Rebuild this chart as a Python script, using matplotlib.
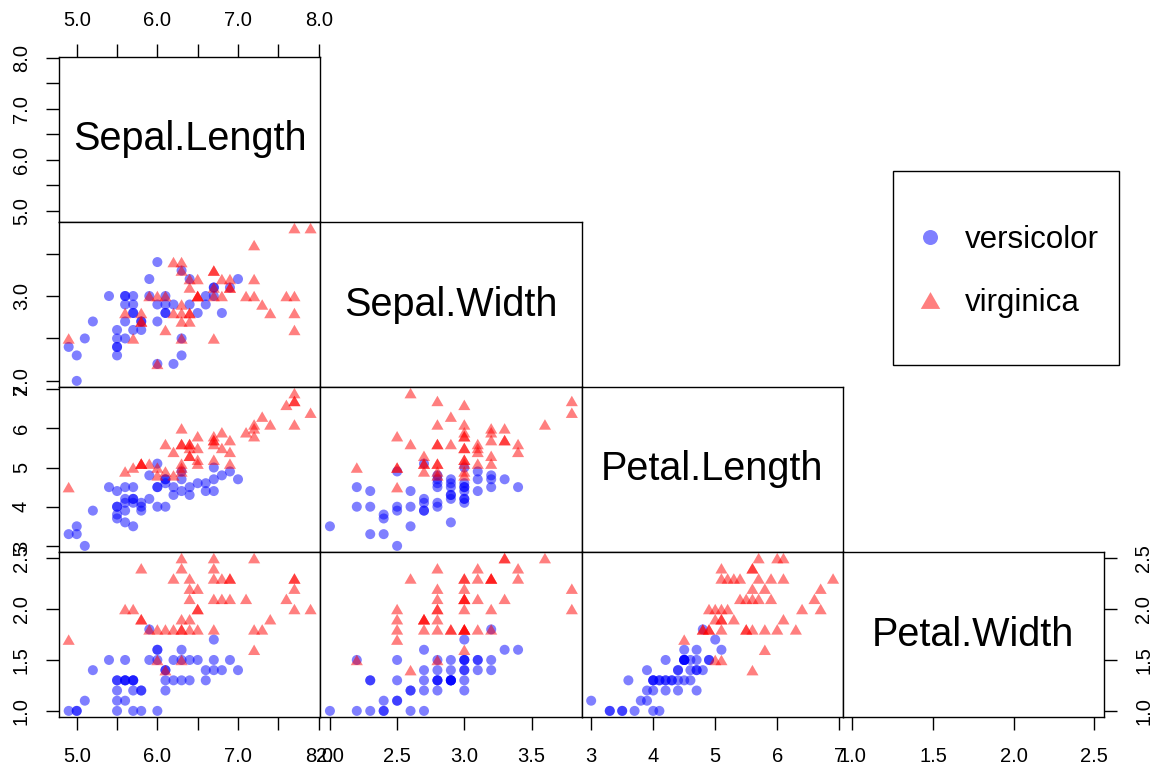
#!/usr/bin/env python3
"""Lower-triangle scatter matrix of the iris versicolor and virginica measurements."""

import matplotlib

matplotlib.use("Agg")
import matplotlib.pyplot as plt
import numpy as np
from matplotlib.lines import Line2D
from matplotlib.path import Path

plt.rcParams["font.family"] = ["Liberation Sans", "DejaVu Sans"]

variables = ["Sepal.Length", "Sepal.Width", "Petal.Length", "Petal.Width"]
species = ["versicolor", "virginica"]

versicolor_sepal_length = [7.0, 6.4, 6.9, 5.5, 6.5, 5.7, 6.3, 4.9, 6.6, 5.2, 5.0, 5.9, 6.0, 6.1, 5.6, 6.7, 5.6,
                           5.8, 6.2, 5.6, 5.9, 6.1, 6.3, 6.1, 6.4, 6.6, 6.8, 6.7, 6.0, 5.7, 5.5, 5.5, 5.8, 6.0,
                           5.4, 6.0, 6.7, 6.3, 5.6, 5.5, 5.5, 6.1, 5.8, 5.0, 5.6, 5.7, 5.7, 6.2, 5.1, 5.7]
versicolor_sepal_width = [3.2, 3.2, 3.1, 2.3, 2.8, 2.8, 3.3, 2.4, 2.9, 2.7, 2.0, 3.0, 2.2, 2.9, 2.9, 3.1, 3.0,
                          2.7, 2.2, 2.5, 3.2, 2.8, 2.5, 2.8, 2.9, 3.0, 2.8, 3.0, 2.9, 2.6, 2.4, 2.4, 2.7, 2.7,
                          3.0, 3.4, 3.1, 2.3, 3.0, 2.5, 2.6, 3.0, 2.6, 2.3, 2.7, 3.0, 2.9, 2.9, 2.5, 2.8]
versicolor_petal_length = [4.7, 4.5, 4.9, 4.0, 4.6, 4.5, 4.7, 3.3, 4.6, 3.9, 3.5, 4.2, 4.0, 4.7, 3.6, 4.4, 4.5,
                           4.1, 4.5, 3.9, 4.8, 4.0, 4.9, 4.7, 4.3, 4.4, 4.8, 5.0, 4.5, 3.5, 3.8, 3.7, 3.9, 5.1,
                           4.5, 4.5, 4.7, 4.4, 4.1, 4.0, 4.4, 4.6, 4.0, 3.3, 4.2, 4.2, 4.2, 4.3, 3.0, 4.1]
versicolor_petal_width = [1.4, 1.5, 1.5, 1.3, 1.5, 1.3, 1.6, 1.0, 1.3, 1.4, 1.0, 1.5, 1.0, 1.4, 1.3, 1.4, 1.5,
                          1.0, 1.5, 1.1, 1.8, 1.3, 1.5, 1.2, 1.3, 1.4, 1.4, 1.7, 1.5, 1.0, 1.1, 1.0, 1.2, 1.6,
                          1.5, 1.6, 1.5, 1.3, 1.3, 1.3, 1.2, 1.4, 1.2, 1.0, 1.3, 1.2, 1.3, 1.3, 1.1, 1.3]

virginica_sepal_length = [6.3, 5.8, 7.1, 6.3, 6.5, 7.6, 4.9, 7.3, 6.7, 7.2, 6.5, 6.4, 6.8, 5.7, 5.8, 6.4, 6.5,
                          7.7, 7.7, 6.0, 6.9, 5.6, 7.7, 6.3, 6.7, 7.2, 6.2, 6.1, 6.4, 7.2, 7.4, 7.9, 6.4, 6.3,
                          6.1, 7.7, 6.3, 6.4, 6.0, 6.9, 6.7, 6.9, 5.8, 6.8, 6.7, 6.7, 6.3, 6.5, 6.2, 5.9]
virginica_sepal_width = [3.3, 2.7, 3.0, 2.9, 3.0, 3.0, 2.5, 2.9, 2.5, 3.6, 3.2, 2.7, 3.0, 2.5, 2.8, 3.2, 3.0,
                         3.8, 2.6, 2.2, 3.2, 2.8, 2.8, 2.7, 3.3, 3.2, 2.8, 3.0, 2.8, 3.0, 2.8, 3.8, 2.8, 2.8,
                         2.6, 3.0, 3.4, 3.1, 3.0, 3.1, 3.1, 3.1, 2.7, 3.2, 3.3, 3.0, 2.5, 3.0, 3.4, 3.0]
virginica_petal_length = [6.0, 5.1, 5.9, 5.6, 5.8, 6.6, 4.5, 6.3, 5.8, 6.1, 5.1, 5.3, 5.5, 5.0, 5.1, 5.3, 5.5,
                          6.7, 6.9, 5.0, 5.7, 4.9, 6.7, 4.9, 5.7, 6.0, 4.8, 4.9, 5.6, 5.8, 6.1, 6.4, 5.6, 5.1,
                          5.6, 6.1, 5.6, 5.5, 4.8, 5.4, 5.6, 5.1, 5.1, 5.9, 5.7, 5.2, 5.0, 5.2, 5.4, 5.1]
virginica_petal_width = [2.5, 1.9, 2.1, 1.8, 2.2, 2.1, 1.7, 1.8, 1.8, 2.5, 2.0, 1.9, 2.1, 2.0, 2.4, 2.3, 1.8,
                         2.2, 2.3, 1.5, 2.3, 2.0, 2.0, 1.8, 2.1, 1.8, 1.8, 1.8, 2.1, 1.6, 1.9, 2.0, 2.2, 1.5,
                         1.4, 2.3, 2.4, 1.8, 1.8, 2.1, 2.4, 2.3, 1.9, 2.3, 2.5, 2.3, 1.9, 2.0, 2.3, 1.8]

# axis ticks per variable, and which of them carry a label (R drops crowded ones)
sepal_length_ticks = [5.0, 5.5, 6.0, 6.5, 7.0, 7.5, 8.0]
sepal_width_ticks = [2.0, 2.5, 3.0, 3.5]
petal_length_ticks = [3, 4, 5, 6, 7]
petal_width_ticks = [1.0, 1.5, 2.0, 2.5]

sepal_length_labelled = [5.0, 6.0, 7.0, 8.0]
sepal_width_labelled_vertical = [2.0, 3.0]

tick_formats = ["{:.1f}", "{:.1f}", "{:.0f}", "{:.1f}"]

columns = {
    "versicolor": [versicolor_sepal_length, versicolor_sepal_width, versicolor_petal_length, versicolor_petal_width],
    "virginica": [virginica_sepal_length, virginica_sepal_width, virginica_petal_length, virginica_petal_width],
}
ticks = [sepal_length_ticks, sepal_width_ticks, petal_length_ticks, petal_width_ticks]
labelled_x = [sepal_length_labelled, sepal_width_ticks, petal_length_ticks, petal_width_ticks]
labelled_y = [sepal_length_labelled, sepal_width_labelled_vertical, petal_length_ticks, petal_width_ticks]

# R's pch 17 is an equilateral-ish triangle, flatter than matplotlib's "^"
TRIANGLE = Path([(-1, -0.866), (1, -0.866), (0, 0.866), (-1, -0.866)], closed=True)

styles = {
    "versicolor": dict(marker="o", s=52, color="#0000FF"),
    "virginica": dict(marker=TRIANGLE, s=76, color="#FF0000"),
}
legend_sizes = {"versicolor": 10.8, "virginica": 14.0}

W, H = 1156, 771
PANEL_LEFT, PANEL_TOP = 59, 57
PANEL_W, PANEL_H = 261.25, 165
TICK_FONT = 14.5
TICK_LEN = 9.7


def limits(k):
    vals = np.concatenate([columns[s][k] for s in species])
    lo, hi = vals.min(), vals.max()
    pad = 0.04 * (hi - lo)
    return lo - pad, hi + pad


def labels_for(k, shown):
    return [tick_formats[k].format(t) if t in shown else "" for t in ticks[k]]


fig = plt.figure(figsize=(W / 100, H / 100), dpi=100)

for i in range(4):
    for j in range(i + 1):
        x0 = (PANEL_LEFT + j * PANEL_W) / W
        y0 = 1 - (PANEL_TOP + (i + 1) * PANEL_H) / H
        ax = fig.add_axes([x0, y0, PANEL_W / W, PANEL_H / H])
        ax.set_xlim(limits(j))
        ax.set_ylim(limits(i))
        for side in ax.spines.values():
            side.set_linewidth(1.0)

        if i == j:
            ax.text(0.5, 0.5, variables[i], transform=ax.transAxes, ha="center", va="center", fontsize=28.5)
        else:
            for s in species:
                ax.scatter(columns[s][j], columns[s][i], alpha=0.5, edgecolors="none", **styles[s])

        ax.set_xticks(ticks[j], labels=labels_for(j, labelled_x[j]), fontsize=TICK_FONT)
        ax.set_yticks(ticks[i], labels=labels_for(i, labelled_y[i]), fontsize=TICK_FONT)
        ax.tick_params(direction="out", length=TICK_LEN, width=1.0, labelsize=TICK_FONT,
                       bottom=False, labelbottom=False, left=False, labelleft=False)
        if i == 0:
            ax.tick_params(axis="x", top=True, labeltop=True, pad=9.5)
        if i == 3:
            ax.tick_params(axis="x", bottom=True, labelbottom=True, pad=12)
        if j == 0:
            ax.tick_params(axis="y", left=True, labelleft=True, labelrotation=90, pad=10.5)
        if j == 3:
            ax.tick_params(axis="y", right=True, labelright=True, labelrotation=90, pad=12)
        for lab in ax.get_yticklabels(which="both"):
            lab.set_va("center")

# legend box, drawn in figure space like R's legend()
fig.add_artist(plt.Rectangle((893 / W, 1 - 365 / H), 226 / W, 194 / H, transform=fig.transFigure,
                             fill=False, linewidth=1.0, edgecolor="black"))
handles = [Line2D([], [], linestyle="none", marker=styles[s]["marker"], markersize=legend_sizes[s],
                  markerfacecolor=styles[s]["color"], markeredgecolor="none", alpha=0.5) for s in species]
fig.legend(handles, species, loc="center left",
           bbox_to_anchor=(914 / W, 1 - 271.5 / H), frameon=False, fontsize=22.5,
           borderpad=0, handlelength=1.0, handletextpad=0.64, labelspacing=1.05, borderaxespad=0)

fig.savefig("out.png", dpi=100, facecolor="white")
